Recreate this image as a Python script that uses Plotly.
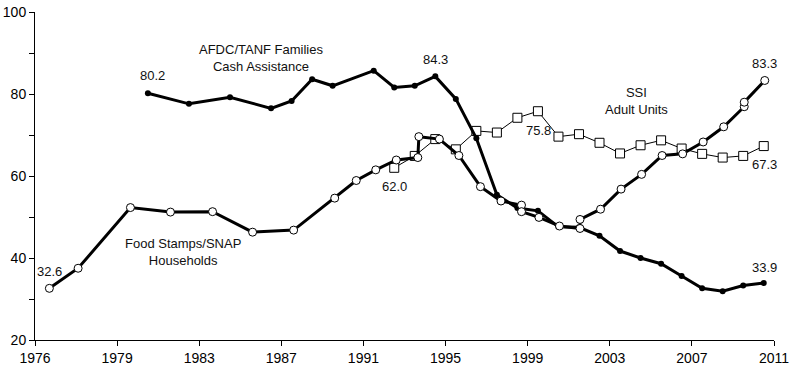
import plotly.graph_objects as go

# x positions are in axis years (axis starts at 1975, first tick is labelled 1976)
afdc_x = [1980.5, 1982.5, 1984.5, 1986.5, 1987.5, 1988.5, 1989.5, 1991.5, 1992.5,
          1993.5, 1994.5, 1995.5, 1996.5, 1997.5, 1998.5, 1999.5, 2000.5, 2001.5,
          2002.5, 2003.5, 2004.5, 2005.5, 2006.5, 2007.5, 2008.5, 2009.5, 2010.5]
afdc_y = [80.2, 77.6, 79.2, 76.5, 78.3, 83.6, 82.0, 85.7, 81.6,
          82.0, 84.3, 78.8, 69.2, 55.4, 52.2, 51.5, 47.6, 47.5,
          45.4, 41.7, 40.0, 38.6, 35.6, 32.6, 31.9, 33.3, 33.9]

snap_x = [1975.7, 1977.1, 1979.65, 1981.6, 1983.65, 1985.6, 1987.6, 1989.6, 1990.65,
          1991.6, 1992.6, 1993.65, 1993.7, 1994.7, 1995.65, 1996.7, 1997.7, 1998.7,
          1998.7, 1999.55, 2000.55, 2001.55, 2001.55, 2002.55, 2003.55, 2004.55,
          2005.55, 2006.55, 2007.55, 2008.55, 2009.55, 2009.55, 2010.55]
snap_y = [32.6, 37.5, 52.3, 51.2, 51.3, 46.3, 46.8, 54.6, 58.9,
          61.5, 63.9, 64.5, 69.6, 69.0, 65.0, 57.4, 53.9, 52.9,
          51.3, 49.9, 47.8, 47.2, 49.4, 51.9, 56.8, 60.4,
          65.0, 65.4, 68.3, 72.0, 76.9, 78.0, 83.3]

ssi_x = [1992.5, 1993.5, 1994.5, 1995.5, 1996.5, 1997.5, 1998.5, 1999.5, 2000.5,
         2001.5, 2002.5, 2003.5, 2004.5, 2005.5, 2006.5, 2007.5, 2008.5, 2009.5, 2010.5]
ssi_y = [62.0, 64.9, 69.0, 66.5, 71.0, 70.6, 74.2, 75.8, 69.6,
         70.2, 68.1, 65.5, 67.5, 68.7, 66.7, 65.4, 64.5, 64.9, 67.3]

tick_vals = [1975, 1979, 1983, 1987, 1991, 1995, 1999, 2003, 2007, 2011]
tick_text = ['1976', '1979', '1983', '1987', '1991', '1995', '1999', '2003', '2007', '2011']

FONT = 'Liberation Sans, Arial, sans-serif'

fig = go.Figure()
fig.add_trace(go.Scatter(x=ssi_x, y=ssi_y, mode='lines+markers',
                         line=dict(color='black', width=1),
                         marker=dict(symbol='square', size=9, color='white',
                                     line=dict(color='black', width=1)),
                         cliponaxis=False))
fig.add_trace(go.Scatter(x=afdc_x, y=afdc_y, mode='lines+markers',
                         line=dict(color='black', width=3),
                         marker=dict(symbol='circle', size=6, color='black'),
                         cliponaxis=False))
fig.add_trace(go.Scatter(x=snap_x, y=snap_y, mode='lines+markers',
                         line=dict(color='black', width=3),
                         marker=dict(symbol='circle', size=8, color='white',
                                     line=dict(color='black', width=1)),
                         cliponaxis=False))

notes = [
    (1986.0, 88.8, 'AFDC/TANF Families<br>Cash Assistance'),
    (1980.7, 84.4, '80.2'),
    (1994.5, 88.3, '84.3'),
    (2004.3, 78.3, 'SSI<br>Adult Units'),
    (1999.55, 71.2, '75.8'),
    (2010.55, 87.5, '83.3'),
    (2010.55, 62.9, '67.3'),
    (1992.5, 57.4, '62.0'),
    (2010.55, 37.7, '33.9'),
    (1975.7, 36.7, '32.6'),
    (1982.2, 41.5, 'Food Stamps/SNAP<br>Households'),
]
for x, y, t in notes:
    fig.add_annotation(x=x, y=y, text=t, showarrow=False,
                       font=dict(family=FONT, size=13, color='#111'))

fig.update_layout(
    width=794, height=378,
    margin=dict(l=35, r=20, t=12, b=38),
    paper_bgcolor='white', plot_bgcolor='white',
    showlegend=False,
    font=dict(family=FONT, size=13, color='black'),
)
fig.update_xaxes(range=[1975, 2011], showgrid=False, zeroline=False, automargin=False,
                 showline=True, linecolor='black', linewidth=1,
                 ticks='outside', ticklen=5, tickcolor='black',
                 tickfont=dict(size=14),
                 tickvals=tick_vals, ticktext=tick_text)
fig.update_yaxes(range=[20, 100], showgrid=False, zeroline=False, automargin=False,
                 showline=True, linecolor='black', linewidth=1,
                 ticks='outside', ticklen=5, tickcolor='black',
                 tickfont=dict(size=14),
                 tickvals=[20, 30, 40, 50, 60, 70, 80, 90, 100],
                 ticktext=['20', '', '40', '', '60', '', '80', '', '100'])

# page body has a default 8px margin; drop it so the chart fills the window
fig.write_html("out.html", config={'displayModeBar': False},
               post_script="document.body.style.margin='0';")
